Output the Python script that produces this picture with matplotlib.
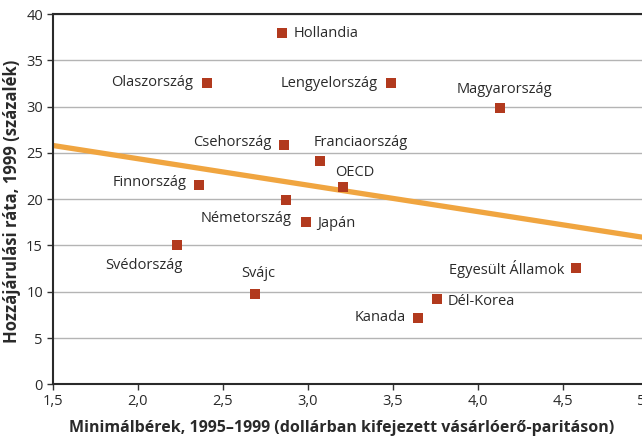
import matplotlib
matplotlib.use("Agg")
import matplotlib.pyplot as plt

# Countries: minimum wage (USD PPP) vs. contribution rate (%)
countries = ["Hollandia", "Olaszország", "Lengyelország", "Magyarország",
             "Csehország", "Franciaország", "OECD", "Finnország",
             "Németország", "Japán", "Svédország", "Svájc",
             "Egyesült Államok", "Dél-Korea", "Kanada"]
min_wage = [2.85, 2.41, 3.49, 4.13, 2.86, 3.07, 3.21, 2.36,
            2.87, 2.99, 2.23, 2.69, 4.58, 3.76, 3.65]
contrib_rate = [37.9, 32.6, 32.5, 29.9, 25.8, 24.1, 21.3, 21.5,
                19.9, 17.5, 15.0, 9.8, 12.6, 9.2, 7.2]

# Fitted trend line endpoints
trend_x = [1.5, 5.0]
trend_y = [25.8, 15.8]

x_ticks = [1.5, 2.0, 2.5, 3.0, 3.5, 4.0, 4.5, 5.0]
y_ticks = [0, 5, 10, 15, 20, 25, 30, 35, 40]

# Label placement: (dx, dy in pixels, horizontal alignment)
label_pos = {
    "Hollandia": (11, 0, "left"),
    "Olaszország": (-14, 0, "right"),
    "Lengyelország": (-13, 0, "right"),
    "Magyarország": (5, 18, "center"),
    "Csehország": (-12, 3, "right"),
    "Franciaország": (-6, 19, "left"),
    "OECD": (-8, 15, "left"),
    "Finnország": (-12, 3, "right"),
    "Németország": (6, -18, "right"),
    "Japán": (11, -1, "left"),
    "Svédország": (6, -20, "right"),
    "Svájc": (3, 20, "center"),
    "Egyesült Államok": (-12, -1, "right"),
    "Dél-Korea": (11, -2, "left"),
    "Kanada": (-12, 0, "right"),
}

MARKER = "#B23A1E"
TREND = "#F0A540"
GRID = "#B4B4B4"
TEXT = "#2a2a2a"
LABEL_FONT = ["Open Sans", "DejaVu Sans"]

fig = plt.figure(figsize=(6.42, 4.38), dpi=100)
ax_w, ax_h = 595, 370.3
ax = fig.add_axes([52.7 / 642, 53.7 / 438, ax_w / 642, ax_h / 438])

ax.set_xlim(1.5, 5.0)
ax.set_ylim(0, 40)

ax.set_yticks(y_ticks)
ax.yaxis.grid(True, color=GRID, linewidth=1.0)
ax.set_axisbelow(True)

ax.plot(trend_x, trend_y, color=TREND, linewidth=3.8, solid_capstyle="butt", zorder=2)
ax.scatter(min_wage, contrib_rate, marker="s", s=62, color=MARKER,
           linewidths=0, zorder=3)

for name, x, y in zip(countries, min_wage, contrib_rate):
    dx, dy, ha = label_pos[name]
    ax.annotate(name, (x, y), xytext=(dx, dy), textcoords="offset pixels",
                ha=ha, va="center", fontsize=10.5, color=TEXT,
                family=LABEL_FONT, zorder=4)

ax.set_xticks(x_ticks)
ax.set_xticklabels([f"{v:.1f}".replace(".", ",") for v in x_ticks],
                   family=LABEL_FONT, fontsize=10.5, color=TEXT)
ax.set_yticklabels([str(v) for v in y_ticks], family=LABEL_FONT,
                   fontsize=10.5, color=TEXT)
ax.tick_params(axis="both", direction="out", length=4, width=1,
               color="#333333", pad=3)

for side in ("left", "bottom", "top"):
    ax.spines[side].set_color("#2a2a2a")
    ax.spines[side].set_linewidth(1.5)
ax.spines["right"].set_visible(False)

ax.set_xlabel("Minimálbérek, 1995–1999 (dollárban kifejezett vásárlóerő-paritáson)",
              family=LABEL_FONT, fontsize=11.5, fontweight="bold", color=TEXT)
ax.set_ylabel("Hozzájárulási ráta, 1999 (százalék)", family=LABEL_FONT,
              fontsize=12, fontweight="bold", color=TEXT)
ax.xaxis.set_label_coords((342 - 52.7) / ax_w, -36 / ax_h)
ax.yaxis.set_label_coords(-32 / ax_w, (384.3 - 201) / ax_h)

fig.savefig("out.png", dpi=100)
